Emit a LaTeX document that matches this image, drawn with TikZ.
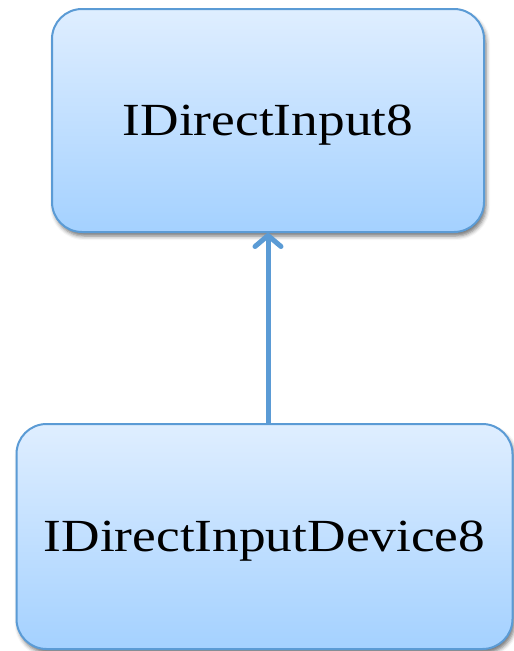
\documentclass[tikz,border=0pt]{standalone}
\usepackage{fontspec}
\setmainfont{Liberation Serif}[FakeStretch=1.16]
\usetikzlibrary{arrows.meta,shadows.blur}
\definecolor{edgeblue}{RGB}{91,155,213}
\definecolor{filltop}{RGB}{223,238,255}
\definecolor{fillbot}{RGB}{164,209,255}
\newcommand{\boxlabel}[1]{\raisebox{-5pt}[\height][\depth]{#1}}
\tikzset{
  classbox/.style={draw=edgeblue, line width=2pt, rounded corners=30pt,
    top color=filltop, bottom color=fillbot, inner sep=0pt,
    blur shadow={shadow xshift=2pt, shadow yshift=-4pt, shadow blur radius=4pt, shadow opacity=55},
    font=\fontsize{46}{52}\selectfont},
  inherit/.style={draw=edgeblue, line width=5pt,
    -{Straight Barb[round, length=11pt, width=26pt]}}
}
\begin{document}
\begin{tikzpicture}[x=1pt,y=-1pt]
\useasboundingbox (0,0) rectangle (514,651);
\node[classbox, minimum width=432pt, minimum height=223pt] (top) at (268,120.5) {\boxlabel{IDirectInput8}};
\node[classbox, minimum width=496pt, minimum height=225pt] (bot) at (264.5,536.5) {\boxlabel{IDirectInputDevice8}};
\draw[inherit] (bot.north -| top.south) -- (top.south);
\end{tikzpicture}
\end{document}
